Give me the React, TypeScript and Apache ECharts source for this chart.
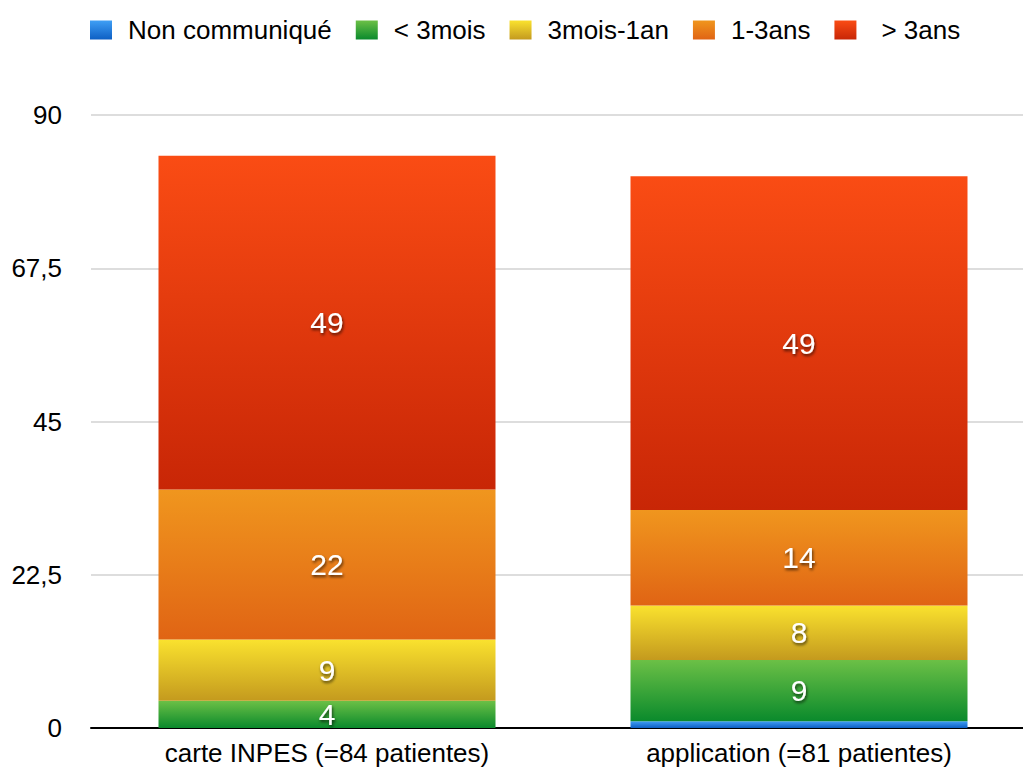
import React, { useEffect, useRef } from "react";
import * as echarts from "echarts";

const categories = ["carte INPES (=84 patientes)", "application (=81 patientes)"];
const seriesNames = ["Non communiqué", "< 3mois", "3mois-1an", "1-3ans", "> 3ans"];
const nonCommunique = [0, 1];
const moins3mois = [4, 9];
const mois3an1 = [9, 8];
const ans1a3 = [22, 14];
const plus3ans = [49, 49];
const yTicks = [0, 22.5, 45, 67.5, 90];

const gradients: [string, string][] = [
  ["#3f9ff5", "#0d5fc4"],
  ["#6cc046", "#0a8a2c"],
  ["#fae22e", "#c49a1e"],
  ["#f0961e", "#e06414"],
  ["#fa4c14", "#c82606"],
];

const FONT = "'Liberation Sans', Arial, Helvetica, sans-serif";

export default function App() {
  const ref = useRef<HTMLDivElement>(null);
  useEffect(() => {
    if (!ref.current) return;
    const chart = echarts.init(ref.current, undefined, { renderer: "svg" });
    const values = [nonCommunique, moins3mois, mois3an1, ans1a3, plus3ans];
    const series = seriesNames.map((name, i) => ({
      name,
      type: "bar",
      stack: "total",
      barWidth: 337,
      data: values[i],
      itemStyle: {
        color: new echarts.graphic.LinearGradient(0, 0, 0, 1, [
          { offset: 0, color: gradients[i][0] },
          { offset: 1, color: gradients[i][1] },
        ]),
      },
      label: {
        show: i !== 0,
        position: "inside",
        color: "#ffffff",
        fontSize: 30,
        fontFamily: FONT,
        textShadowColor: "rgba(0,0,0,0.65)",
        textShadowBlur: 3,
        textShadowOffsetX: 1,
        textShadowOffsetY: 2,
        formatter: (p: any) => (p.value > 0 ? String(p.value) : ""),
      },
    }));
    chart.setOption({
      animation: false,
      backgroundColor: "#ffffff",
      textStyle: { fontFamily: FONT },
      legend: {
        left: 90,
        top: 15,
        padding: 0,
        itemWidth: 22,
        itemHeight: 19,
        itemGap: 24,
        icon: "rect",
        data: seriesNames.map((n, i) =>
          i === 4
            ? { name: n, textStyle: { padding: [0, 0, 0, 20] } }
            : { name: n }
        ),
        textStyle: {
          fontSize: 26,
          fontFamily: FONT,
          color: "#000000",
          lineHeight: 30,
          padding: [0, 0, 0, 11],
        },
      },
      grid: { left: 91, right: 5, top: 115, bottom: 41, containLabel: false },
      xAxis: {
        type: "category",
        data: categories,
        axisLine: { show: true, lineStyle: { color: "#000000", width: 2 } },
        axisTick: { show: false },
        axisLabel: {
          fontSize: 26,
          color: "#000000",
          fontFamily: FONT,
          margin: 12,
          interval: 0,
        },
      },
      yAxis: {
        type: "value",
        min: yTicks[0],
        max: yTicks[yTicks.length - 1],
        interval: yTicks[1] - yTicks[0],
        axisLine: { show: false },
        axisTick: { show: false },
        splitLine: { lineStyle: { color: "#d2d2d2", width: 1.5 } },
        axisLabel: {
          fontSize: 26,
          color: "#000000",
          fontFamily: FONT,
          margin: 29,
          formatter: (v: number) => String(v).replace(".", ","),
        },
      },
      series,
    });
    return () => chart.dispose();
  }, []);
  return (
    <div style={{ position: "fixed", left: 0, top: 0, width: 1023, height: 769, overflow: "hidden", background: "#fff" }}>
      <div ref={ref} style={{ width: 1040, height: 769 }} />
    </div>
  );
}
